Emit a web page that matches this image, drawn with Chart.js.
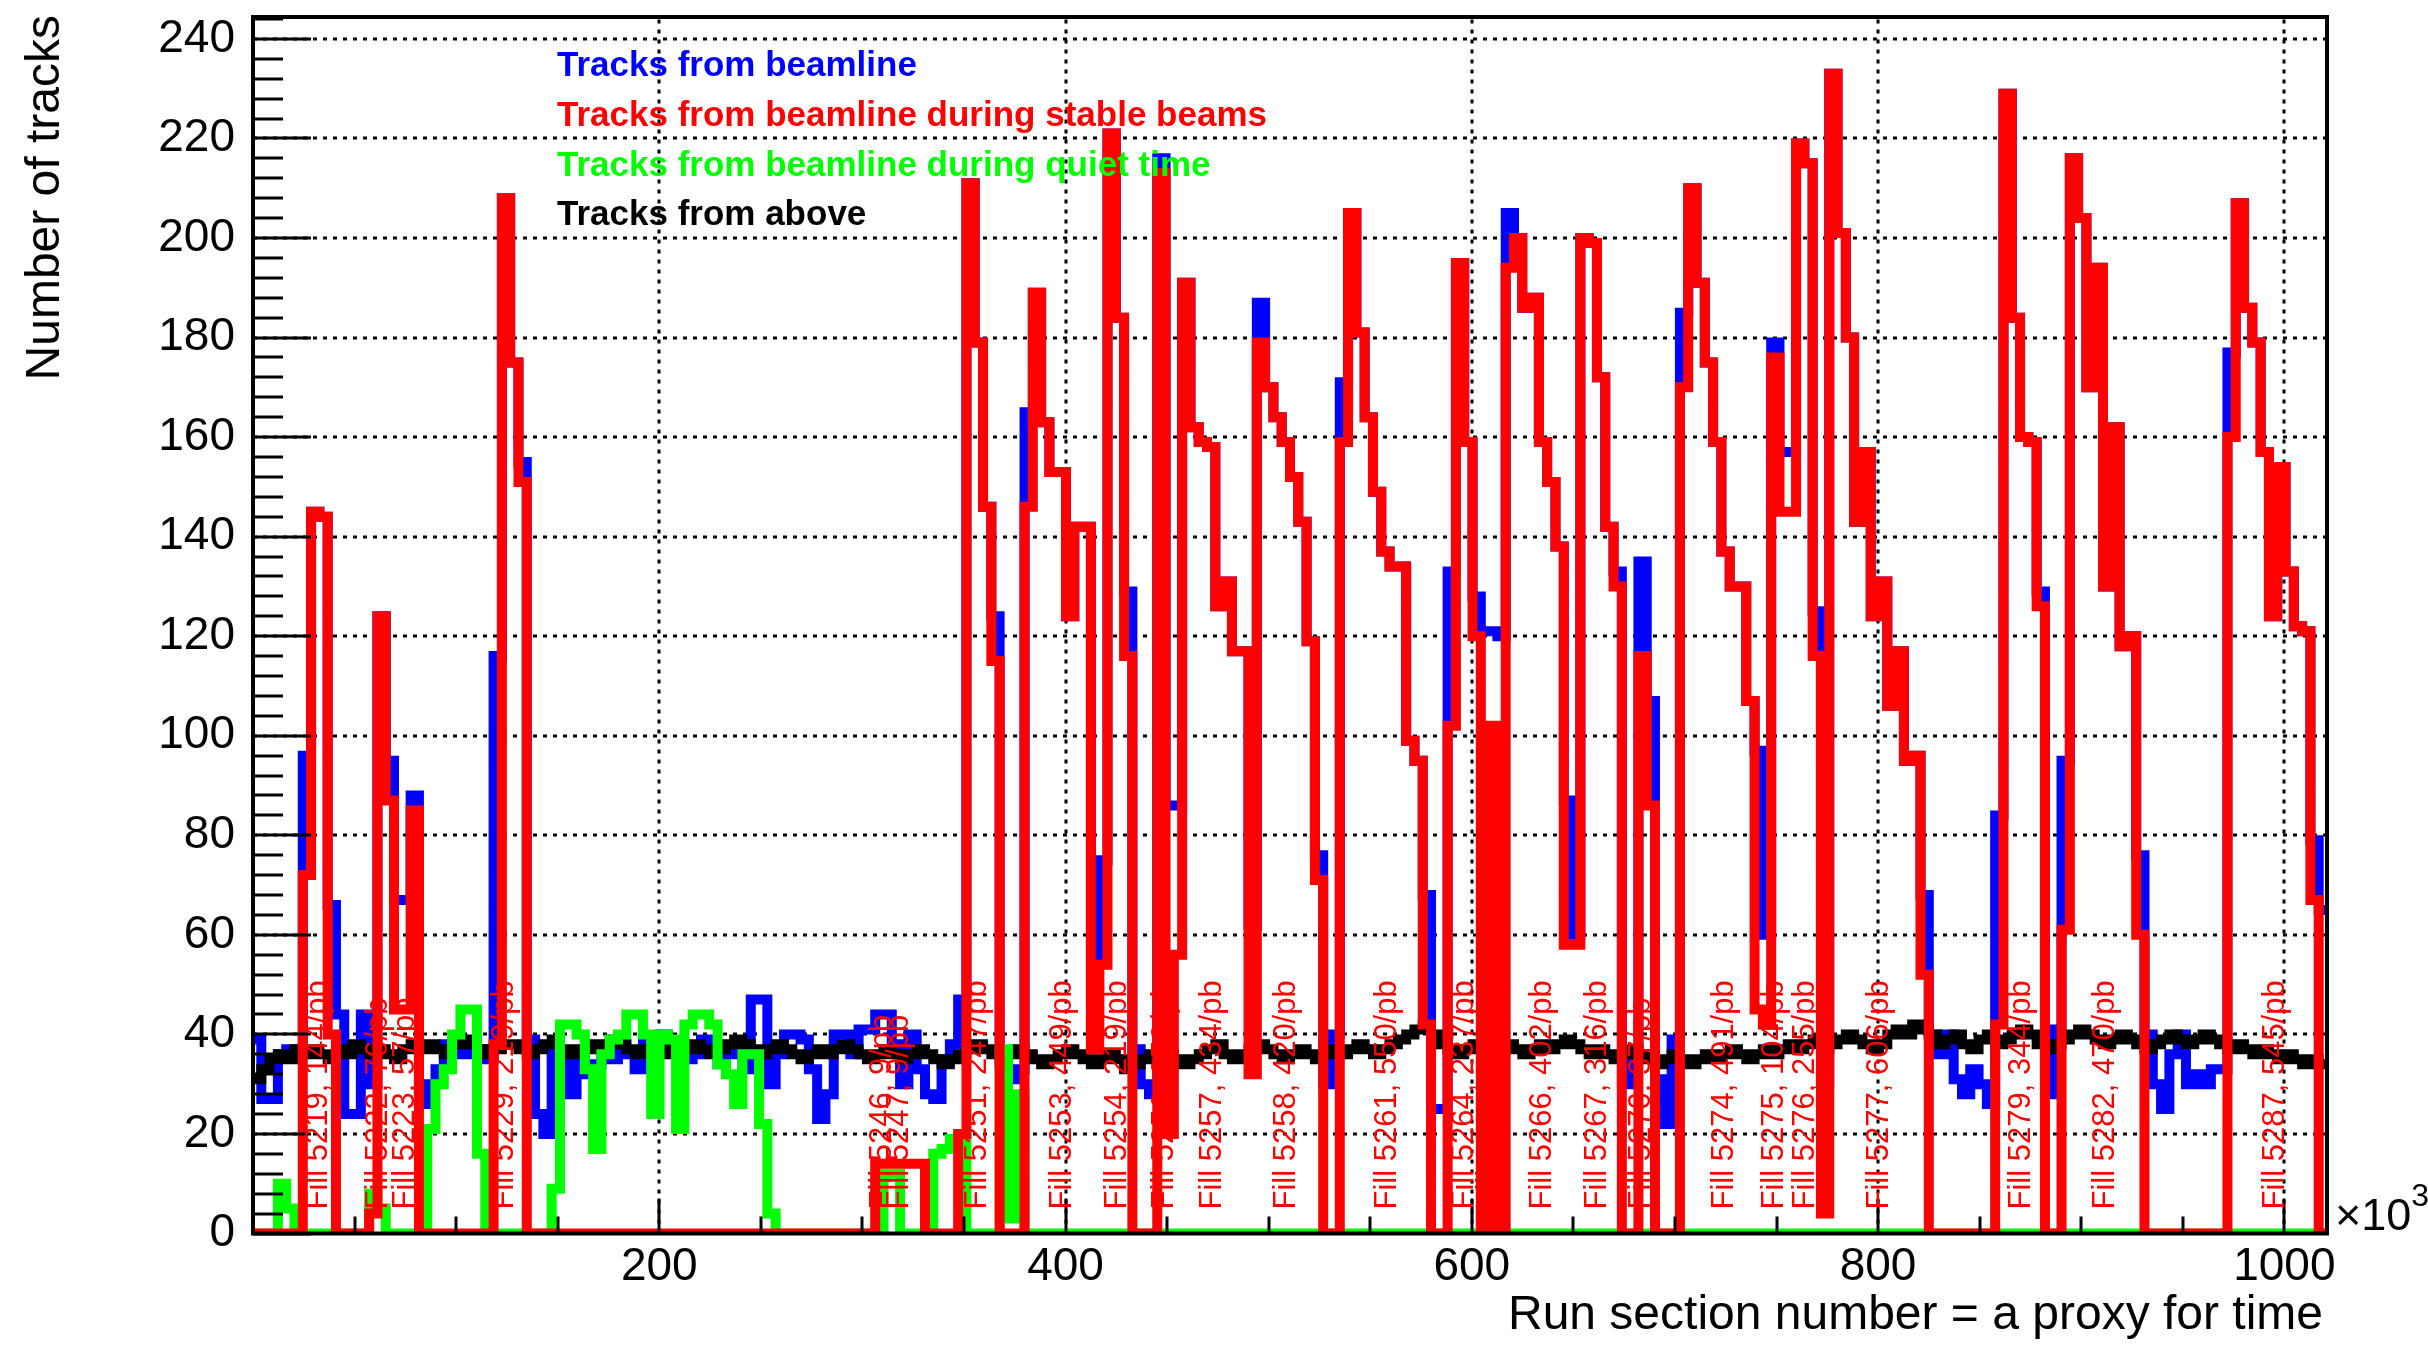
<!DOCTYPE html>
<html>
<head>
<meta charset="utf-8">
<script src="https://cdn.jsdelivr.net/npm/chart.js@4.4.1/dist/chart.umd.min.js"></script>
<style>
  html, body { margin: 0; padding: 0; background: #fff; }
  canvas { display: block; }
</style>
</head>
<body>
<canvas id="trackChart" width="2428" height="1345"></canvas>
<script>
// Histogram binning (x axis in units of 10^3 run sections)
const xAxisMin = 0;
const xAxisMax = 1021;
const binCount = 250;

const seriesNames = [
    'Tracks from beamline',
    'Tracks from beamline during stable beams',
    'Tracks from beamline during quiet time',
    'Tracks from above'
];

const yTickValues = [0, 20, 40, 60, 80, 100, 120, 140, 160, 180, 200, 220, 240];
const xTickValues = [200, 400, 600, 800, 1000];

// Tracks from beamline (all)
const beamlineCounts = [
    39, 27, 27, 36, 37, 37, 96, 145, 144, 66,
    44, 24, 24, 44, 30, 124, 95, 67, 67, 88,
    26, 30, 33, 38, 36, 37, 36, 37, 35, 116,
    208, 175, 155, 39, 24, 20, 38, 36, 28, 35,
    32, 34, 37, 35, 38, 36, 33, 39, 36, 40,
    37, 38, 35, 36, 39, 37, 34, 36, 38, 33,
    47, 47, 30, 36, 40, 40, 39, 33, 23, 28,
    40, 40, 36, 41, 41, 44, 44, 38, 30, 40,
    33, 28, 27, 35, 38, 47, 211, 179, 146, 124,
    34, 31, 33, 165, 189, 163, 153, 153, 124, 142,
    142, 40, 75, 221, 184, 129, 37, 30, 28, 216,
    86, 86, 191, 162, 159, 158, 126, 131, 117, 117,
    62, 187, 170, 164, 159, 152, 143, 119, 76, 30,
    40, 171, 205, 181, 164, 149, 137, 134, 134, 99,
    95, 68, 25, 25, 133, 195, 159, 128, 121, 121,
    120, 205, 200, 186, 188, 159, 151, 138, 87, 60,
    200, 199, 172, 142, 133, 30, 35, 135, 107, 31,
    22, 39, 185, 210, 191, 175, 159, 137, 130, 130,
    107, 97, 60, 179, 157, 157, 219, 215, 125, 30,
    233, 201, 180, 143, 157, 124, 131, 106, 117, 95,
    96, 68, 40, 36, 40, 31, 28, 33, 30, 26,
    84, 229, 184, 160, 159, 129, 28, 41, 95, 216,
    204, 170, 194, 130, 162, 118, 120, 76, 40, 30,
    25, 36, 40, 30, 32, 30, 33, 33, 177, 207,
    186, 179, 157, 124, 154, 133, 122, 121, 79, 65
];

// Tracks from beamline during stable beams
const stableBeamCounts = [
    0, 0, 0, 0, 0, 0, 72, 145, 144, 40,
    0, 0, 0, 0, 4, 124, 87, 45, 45, 85,
    0, 0, 0, 0, 0, 0, 0, 0, 0, 38,
    208, 175, 151, 0, 0, 0, 0, 0, 0, 0,
    0, 0, 0, 0, 0, 0, 0, 0, 0, 0,
    0, 0, 0, 0, 0, 0, 0, 0, 0, 0,
    0, 0, 0, 0, 0, 0, 0, 0, 0, 0,
    0, 0, 0, 0, 0, 14, 14, 14, 14, 14,
    14, 0, 0, 0, 0, 20, 211, 179, 146, 115,
    0, 0, 0, 146, 189, 163, 153, 153, 124, 142,
    142, 37, 54, 221, 184, 116, 0, 0, 0, 213,
    20, 56, 191, 162, 159, 158, 126, 131, 117, 117,
    32, 179, 170, 164, 159, 152, 143, 119, 71, 0,
    0, 159, 205, 181, 164, 149, 137, 134, 134, 99,
    95, 42, 0, 0, 102, 195, 159, 120, 0, 102,
    0, 194, 200, 186, 188, 159, 151, 138, 58, 58,
    200, 199, 172, 142, 130, 0, 0, 116, 86, 0,
    0, 0, 170, 210, 191, 175, 159, 137, 130, 130,
    107, 45, 42, 176, 145, 145, 219, 215, 116, 4,
    233, 201, 180, 143, 157, 124, 131, 106, 117, 95,
    96, 52, 0, 0, 0, 0, 0, 0, 0, 0,
    42, 229, 184, 160, 159, 126, 0, 0, 61, 216,
    204, 170, 194, 130, 162, 118, 120, 60, 0, 0,
    0, 0, 0, 0, 0, 0, 0, 0, 160, 207,
    186, 179, 157, 124, 154, 133, 122, 121, 67, 0
];

// Tracks from beamline during quiet time
const quietTimeCounts = [
    0, 0, 0, 10, 5, 0, 0, 0, 0, 0,
    0, 0, 0, 0, 8, 5, 0, 0, 0, 0,
    0, 21, 30, 33, 40, 45, 45, 16, 0, 0,
    0, 0, 0, 0, 0, 0, 9, 42, 42, 40,
    33, 17, 36, 39, 40, 44, 44, 40, 24, 40,
    39, 21, 42, 44, 44, 42, 34, 32, 26, 36,
    36, 22, 4, 0, 0, 0, 0, 0, 0, 0,
    0, 0, 0, 0, 0, 0, 12, 12, 0, 0,
    0, 0, 16, 17, 19, 19, 0, 0, 0, 0,
    37, 3, 28, 0, 0, 0, 0, 0, 0, 0,
    0, 0, 0, 0, 0, 0, 0, 0, 0, 0,
    0, 0, 0, 0, 0, 0, 0, 0, 0, 0,
    0, 0, 0, 0, 0, 0, 0, 0, 0, 0,
    0, 0, 0, 0, 0, 0, 0, 0, 0, 0,
    0, 0, 0, 0, 0, 0, 0, 0, 0, 0,
    0, 0, 0, 0, 0, 0, 0, 0, 0, 0,
    0, 0, 0, 0, 0, 0, 0, 0, 0, 0,
    0, 0, 0, 0, 0, 0, 0, 0, 0, 0,
    0, 0, 0, 0, 0, 0, 0, 0, 0, 0,
    0, 0, 0, 0, 0, 0, 0, 0, 0, 0,
    0, 0, 0, 0, 0, 0, 0, 0, 0, 0,
    0, 0, 0, 0, 0, 0, 0, 0, 0, 0,
    0, 0, 0, 0, 0, 0, 0, 0, 0, 0,
    0, 0, 0, 0, 0, 0, 0, 0, 0, 0,
    0, 0, 0, 0, 0, 0, 0, 0, 0, 0
];

// Tracks from above (cosmics)
const aboveCounts = [
    31, 33, 35, 36, 35, 37, 36, 37, 36, 35,
    37, 36, 38, 37, 36, 37, 36, 35, 37, 38,
    37, 38, 37, 36, 38, 39, 38, 37, 36, 37,
    38, 38, 37, 36, 37, 38, 39, 37, 36, 37,
    38, 37, 38, 39, 38, 37, 36, 37, 38, 37,
    36, 38, 37, 38, 37, 36, 37, 38, 39, 38,
    37, 36, 37, 38, 37, 36, 35, 36, 37, 36,
    37, 38, 37, 36, 35, 36, 37, 36, 35, 36,
    37, 36, 35, 34, 35, 36, 37, 38, 37, 36,
    35, 36, 37, 36, 35, 34, 35, 36, 37, 36,
    35, 34, 35, 36, 35, 33, 34, 35, 36, 37,
    36, 35, 34, 35, 36, 37, 38, 36, 35, 36,
    37, 38, 37, 36, 35, 36, 37, 36, 35, 36,
    37, 36, 37, 38, 37, 36, 37, 38, 39, 40,
    41, 42, 40, 38, 37, 36, 37, 38, 37, 36,
    37, 38, 37, 36, 37, 38, 37, 38, 39, 38,
    37, 36, 37, 36, 35, 36, 37, 36, 35, 34,
    35, 36, 35, 34, 35, 36, 35, 36, 37, 36,
    35, 36, 37, 36, 37, 38, 37, 38, 39, 37,
    38, 39, 40, 39, 38, 37, 38, 40, 41, 40,
    42, 41, 40, 38, 39, 40, 38, 37, 39, 40,
    38, 39, 40, 41, 40, 38, 37, 38, 39, 40,
    41, 40, 39, 38, 39, 40, 39, 38, 37, 38,
    39, 40, 39, 38, 39, 40, 39, 38, 37, 38,
    37, 36, 37, 36, 35, 36, 35, 34, 35, 34
];

// Fill annotations
const fillLabels = [
    'Fill 5219, 144/pb', 'Fill 5222, 76/pb', 'Fill 5223, 57/pb', 'Fill 5229, 219/pb',
    'Fill 5246, 9/pb', 'Fill 5247, 9/pb', 'Fill 5251, 247/pb', 'Fill 5253, 449/pb',
    'Fill 5254, 219/pb', 'Fill 5256, 353/pb', 'Fill 5257, 434/pb', 'Fill 5258, 420/pb',
    'Fill 5261, 550/pb', 'Fill 5264, 237/pb', 'Fill 5265, 85/pb', 'Fill 5266, 402/pb',
    'Fill 5267, 316/pb', 'Fill 5270, 37/pb', 'Fill 5274, 491/pb', 'Fill 5275, 104/pb',
    'Fill 5276, 255/pb', 'Fill 5277, 606/pb', 'Fill 5279, 344/pb', 'Fill 5282, 470/pb',
    'Fill 5287, 545/pb'
];
const fillLabelX = [
    32, 62, 75, 124, 310, 318, 356.5, 398.4, 425.8, 448.7, 472.3, 508.9,
    558.4, 596.5, 608.7, 634.6, 662, 683.4, 724.5, 748.9, 764.2, 800.7,
    870.8, 912, 995.8
];

const fontFamily = '"Liberation Sans", Arial, Helvetica, sans-serif';

// histogram outline: one point per bin low edge, plus the upper edge of the last bin
function histPoints(values) {
    const width = (xAxisMax - xAxisMin) / binCount;
    const pts = values.map((v, i) => ({ x: xAxisMin + i * width, y: v }));
    pts.push({ x: xAxisMax, y: values[values.length - 1] });
    return pts;
}

function histDataset(label, values, color, order) {
    return {
        label: label,
        data: histPoints(values),
        borderColor: color,
        backgroundColor: color,
        borderWidth: 10,
        stepped: 'before',
        pointRadius: 0,
        fill: false,
        tension: 0,
        borderJoinStyle: 'miter',
        borderCapStyle: 'butt',
        order: order
    };
}

// frame, ROOT-like ticks, dotted grid and all free text
const rootFramePlugin = {
    id: 'rootFrame',
    beforeDatasetsDraw(chart) {
        const { ctx, chartArea: a, scales: { x, y } } = chart;
        ctx.save();
        ctx.strokeStyle = '#000';
        ctx.lineWidth = 3;
        ctx.setLineDash([4, 6]);
        yTickValues.forEach(v => {
            if (v === 0) return;
            const py = Math.round(y.getPixelForValue(v));
            ctx.beginPath();
            ctx.moveTo(a.left, py);
            ctx.lineTo(a.right, py);
            ctx.stroke();
        });
        xTickValues.forEach(v => {
            const px = Math.round(x.getPixelForValue(v));
            ctx.beginPath();
            ctx.moveTo(px, a.bottom);
            ctx.lineTo(px, a.top);
            ctx.stroke();
        });
        ctx.restore();
    },
    afterDatasetsDraw(chart) {
        const { ctx, chartArea: a, scales: { x, y } } = chart;
        ctx.save();

        // y ticks: major every 20, minor every 4
        ctx.strokeStyle = '#000';
        ctx.lineWidth = 3;
        for (let v = 0; v <= y.max; v += 4) {
            const py = Math.round(y.getPixelForValue(v));
            const len = v % 20 === 0 ? 58 : 30;
            ctx.beginPath();
            ctx.moveTo(a.left, py);
            ctx.lineTo(a.left + len, py);
            ctx.stroke();
        }
        // x ticks: major every 200, minor every 50
        for (let v = 0; v <= x.max; v += 50) {
            const px = Math.round(x.getPixelForValue(v));
            const len = v % 200 === 0 ? 35 : 17;
            ctx.beginPath();
            ctx.moveTo(px, a.bottom);
            ctx.lineTo(px, a.bottom - len);
            ctx.stroke();
        }

        // fill labels
        ctx.fillStyle = '#ff0000';
        ctx.font = '31px ' + fontFamily;
        ctx.textAlign = 'left';
        ctx.textBaseline = 'middle';
        fillLabels.forEach((txt, i) => {
            const px = x.getPixelForValue(fillLabelX[i]);
            ctx.save();
            ctx.translate(px, a.bottom - 24);
            ctx.rotate(-Math.PI / 2);
            ctx.fillText(txt, 0, 0);
            ctx.restore();
        });

        // frame
        ctx.strokeStyle = '#000';
        ctx.lineWidth = 4;
        ctx.strokeRect(a.left, a.top, a.right - a.left, a.bottom - a.top);

        // legend (text only, coloured like the lines)
        ctx.font = 'bold 35px ' + fontFamily;
        ctx.textAlign = 'left';
        ctx.textBaseline = 'middle';
        const legendRows = [66, 116, 166, 215];
        legendRows.forEach((rowY, di) => {
            const ds = chart.data.datasets[di];
            ctx.fillStyle = ds.borderColor;
            ctx.fillText(ds.label, 557, rowY);
        });

        // exponent of the x axis
        ctx.fillStyle = '#000';
        ctx.font = '45px ' + fontFamily;
        ctx.textBaseline = 'middle';
        ctx.fillText('\u00d710', a.right + 8, a.bottom - 16);
        const w = ctx.measureText('\u00d710').width;
        ctx.font = '32px ' + fontFamily;
        ctx.fillText('3', a.right + 8 + w, a.bottom - 36);

        // axis titles
        ctx.font = '48px ' + fontFamily;
        ctx.textAlign = 'right';
        ctx.fillText('Run section number = a proxy for time', a.right - 4, 1316);
        ctx.save();
        ctx.translate(46, 15);
        ctx.rotate(-Math.PI / 2);
        ctx.textAlign = 'right';
        ctx.fillText('Number of tracks', 0, 0);
        ctx.restore();

        ctx.restore();
    }
};

function zeroScalePadding(scale) {
    scale.paddingTop = 0;
    scale.paddingBottom = 0;
    scale.paddingLeft = 0;
    scale.paddingRight = 0;
}

const ctx = document.getElementById('trackChart').getContext('2d');
new Chart(ctx, {
    type: 'line',
    data: {
        datasets: [
            histDataset(seriesNames[0], beamlineCounts, '#0000ff', 3),
            histDataset(seriesNames[1], stableBeamCounts, '#ff0000', 0),
            histDataset(seriesNames[2], quietTimeCounts, '#00ff00', 1),
            histDataset(seriesNames[3], aboveCounts, '#000000', 2)
        ]
    },
    options: {
        responsive: false,
        maintainAspectRatio: false,
        devicePixelRatio: 1,
        animation: false,
        layout: { padding: { left: 0, right: 101, top: 17, bottom: 0 } },
        plugins: {
            legend: { display: false },
            tooltip: { enabled: false },
            title: { display: false }
        },
        scales: {
            x: {
                type: 'linear',
                min: xAxisMin,
                max: xAxisMax,
                grid: { display: false, drawTicks: false },
                border: { display: false },
                afterBuildTicks: scale => {
                    scale.ticks = xTickValues.map(v => ({ value: v }));
                },
                afterFit: scale => {
                    scale.height = 111.5;
                    zeroScalePadding(scale);
                },
                ticks: {
                    color: '#000',
                    padding: 6,
                    maxRotation: 0,
                    autoSkip: false,
                    callback: v => String(v),
                    font: { family: fontFamily, size: 46 }
                }
            },
            y: {
                type: 'linear',
                min: 0,
                max: 244.4,
                grid: { display: false, drawTicks: false },
                border: { display: false },
                afterBuildTicks: scale => {
                    scale.ticks = yTickValues.map(v => ({ value: v }));
                },
                afterFit: scale => {
                    scale.width = 253;
                    zeroScalePadding(scale);
                },
                ticks: {
                    color: '#000',
                    padding: 18,
                    autoSkip: false,
                    callback: v => String(v),
                    font: { family: fontFamily, size: 46 }
                }
            }
        }
    },
    plugins: [rootFramePlugin]
});
</script>
</body>
</html>
